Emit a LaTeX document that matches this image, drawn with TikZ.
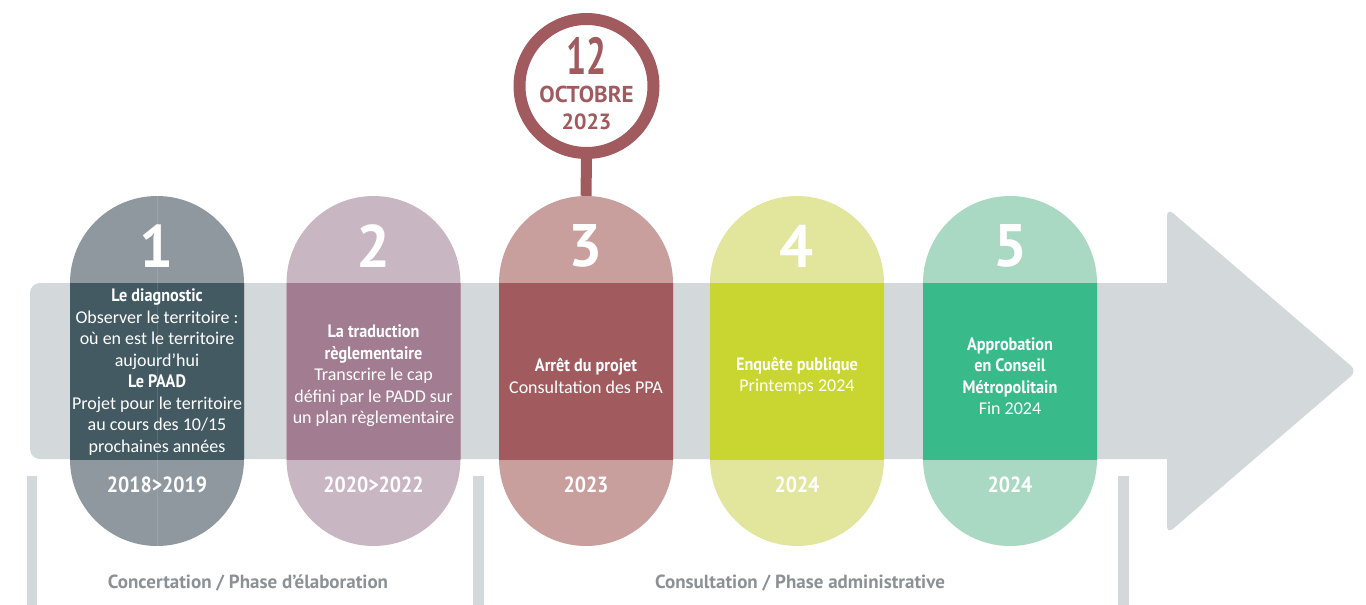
\documentclass[tikz,border=0pt]{standalone}
\usepackage{fontspec}
\setmainfont{Carlito}
\newfontfamily\hd{PT Sans}
\newfontfamily\hdc{PT Sans}[FakeStretch=0.9]
\usetikzlibrary{shapes.misc}
\definecolor{bandc}{HTML}{D3D9DB}
\definecolor{ponel}{HTML}{8F989F}
\definecolor{poned}{HTML}{435A63}
\definecolor{ptwol}{HTML}{C9B6C3}
\definecolor{ptwod}{HTML}{A27D92}
\definecolor{pthrl}{HTML}{C89F9D}
\definecolor{pthrd}{HTML}{A15B5F}
\definecolor{pfoul}{HTML}{E2E69D}
\definecolor{pfoud}{HTML}{C9D531}
\definecolor{pfivl}{HTML}{A9D8C3}
\definecolor{pfivd}{HTML}{38BA8A}
\definecolor{phase}{HTML}{8B9194}
\begin{document}
\begin{tikzpicture}[x=1pt,y=-1pt,
  pill/.style={rounded rectangle, rotate=90, minimum width=350pt, minimum height=174pt, inner sep=0pt, draw=none},
  body/.style={text=white, align=center, inner sep=0pt, font=\fontsize{18}{21.5}\selectfont},
  num/.style={text=white, inner sep=0pt, font=\fontsize{60}{60}\selectfont\hd\bfseries},
  yr/.style={text=white, inner sep=0pt, font=\fontsize{22}{22}\selectfont\hdc\bfseries},
  phaselbl/.style={text=phase, inner sep=0pt, font=\fontsize{19}{19}\selectfont\hd\bfseries}]
\useasboundingbox (0,0) rectangle (1366,605);
% band and arrow head
\fill[bandc, rounded corners=10pt] (30,283) rectangle (1185,459);
\fill[bandc, rounded corners=8pt] (1167,371) -- (1167,208) -- (1357,371) -- (1167,534) -- cycle;
% phase bars
\fill[bandc] (27,476) rectangle (37,605);
\fill[bandc] (473,476) rectangle (484,605);
\fill[bandc] (1118,476) rectangle (1129,605);
% pills (light)
\node[pill, fill=ponel] (p1) at (157,371) {};
\node[pill, fill=ptwol] (p2) at (373.5,371) {};
\node[pill, fill=pthrl] (p3) at (586,371) {};
\node[pill, fill=pfoul] (p4) at (797,371) {};
\node[pill, fill=pfivl] (p5) at (1010,371) {};
% pills (dark part inside band)
\begin{scope}
\clip (0,283) rectangle (1366,459);
\node[pill, fill=poned] at (157,371) {};
\node[pill, fill=ptwod] at (373.5,371) {};
\node[pill, fill=pthrd] at (586,371) {};
\node[pill, fill=pfoud] at (797,371) {};
\node[pill, fill=pfivd] at (1010,371) {};
\end{scope}
\draw[white, opacity=0.12, line width=0.8pt] (p1.east) -- (p1.west);
% date circle
\node[circle, draw=pthrd, line width=12pt, fill=white, minimum size=134pt, inner sep=0pt] (date) at (586.5,86) {};
\draw[pthrd, line width=11pt] (date.south) -- (p3.east);
\node[text=pthrd, inner sep=0pt, font=\fontsize{52}{52}\selectfont\hd\bfseries] (d12) at (586.5,56) {\scalebox{0.68}[1]{12}};
\node[text=pthrd, inner sep=0pt, font=\fontsize{23}{23}\selectfont\hd\bfseries] (doct) at (586.5,94.5) {OCTOBRE};
\node[text=pthrd, inner sep=0pt, font=\fontsize{22}{22}\selectfont\hd\bfseries] (dyr) at (586.5,122) {2023};
% numbers
\node[num] (n1) at (157,246) {1};
\node[num] (n2) at (373.5,246) {2};
\node[num] (n3) at (586,246) {3};
\node[num] (n4) at (797,246) {4};
\node[num] (n5) at (1010,246) {5};
% texts
\node[body] (t1) at (157,372) {{\hdc\bfseries Le diagnostic}\\Observer le territoire :\\où en est le territoire\\aujourd’hui\\{\hdc\bfseries Le PAAD}\\Projet pour le territoire\\au cours des 10/15\\prochaines années};
\node[body] (t2) at (373.5,376) {{\hdc\bfseries La traduction}\\{\hdc\bfseries règlementaire}\\Transcrire le cap\\défini par le PADD sur\\un plan règlementaire};
\node[body] (t3) at (586,376) {{\hdc\bfseries Arrêt du projet}\\Consultation des PPA};
\node[body] (t4) at (797,376) {{\hdc\bfseries Enquête publique}\\Printemps 2024};
\node[body] (t5) at (1010,376) {{\hdc\bfseries Approbation}\\{\hdc\bfseries en Conseil}\\{\hdc\bfseries Métropolitain}\\Fin 2024};
% years
\node[yr] (y1) at (157,485) {2018>2019};
\node[yr] (y2) at (373.5,485) {2020>2022};
\node[yr] (y3) at (586,485) {2023};
\node[yr] (y4) at (797,485) {2024};
\node[yr] (y5) at (1010,485) {2024};
% phase labels
\node[phaselbl] (ph1) at (248,583) {Concertation / Phase d’élaboration};
\node[phaselbl] (ph2) at (800,583) {Consultation / Phase administrative};
\end{tikzpicture}
\end{document}
